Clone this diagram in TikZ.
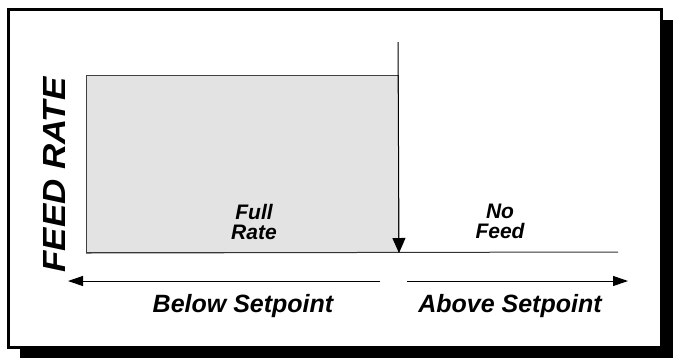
\documentclass[tikz,border=0pt]{standalone}
\usepackage{fontspec}
\setmainfont{Liberation Sans}
\usetikzlibrary{arrows.meta}
\definecolor{boxgray}{RGB}{227,227,227}
\begin{document}
\begin{tikzpicture}[x=1bp,y=-1bp,
  lbl/.style={font=\fontsize{25bp}{27bp}\selectfont\bfseries\itshape, inner sep=0pt},
  inlbl/.style={font=\fontsize{21bp}{19bp}\selectfont\bfseries\itshape, inner sep=0pt, align=center},
  ylbl/.style={font=\fontsize{32bp}{34bp}\selectfont\bfseries\itshape, inner sep=0pt, rotate=90},
  thin line/.style={line width=1bp, black},
  harrow/.style={line width=1bp, -{Triangle[length=15bp,width=10bp]}},
  varrow/.style={line width=1bp, -{Triangle[length=15bp,width=13bp]}}]
\useasboundingbox (0,0) rectangle (673,358);
% shadow and frame
\fill[black] (20,20) rectangle (673,358);
\draw[line width=3bp, fill=white] (8.5,9.5) rectangle (661,347);
% full rate region
\node[draw=black!75, line width=1bp, fill=boxgray, minimum width=312bp, minimum height=177bp, inner sep=0pt, anchor=north west] (fullbox) at (86,75) {};
\coordinate (vtop) at (398,42);
\coordinate (bend) at (618,252);
\draw[thin line, black!80] (fullbox.south west) -- (bend);
\draw[varrow] (vtop) -- (fullbox.south east);
% range arrows
\coordinate (la) at (380,281);
\coordinate (lb) at (68,281);
\coordinate (ra) at (407,281);
\coordinate (rb) at (628,281);
\draw[harrow] (la) -- (lb);
\draw[harrow] (ra) -- (rb);
% labels
\node[ylbl] (ylabel) at (54,175) {\scalebox{1.09}[1]{FEED RATE}};
\node[inlbl] (full) at (254,221.5) {Full\\[1bp]Rate};
\node[inlbl] (nofeed) at (500,221.5) {No\\[1bp]Feed};
\node[lbl, anchor=base] (below) at (243,312) {Below Setpoint};
\node[lbl, anchor=base] (above) at (510,312) {Above Setpoint};
\end{tikzpicture}
\end{document}
